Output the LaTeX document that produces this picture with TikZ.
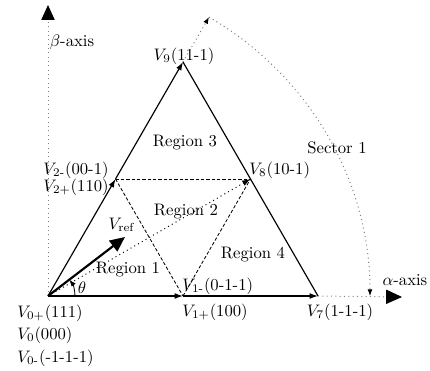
\documentclass[tikz,border=0pt]{standalone}
\usepackage{amsmath}
\usetikzlibrary{arrows.meta}
\begin{document}
\begin{tikzpicture}[x=0.6pt,y=0.6pt,
  vec/.style={line width=0.7pt,-{Latex[length=5pt,width=3.5pt]}},
  edge/.style={line width=0.7pt},
  dashtri/.style={dash pattern=on 2pt off 1.2pt,line width=0.5pt},
  dotl/.style={dotted,gray,line width=0.6pt},
  lab/.style={inner sep=0pt,font=\normalsize}]
\useasboundingbox (0,0) rectangle (430,371);
% points
\coordinate (O) at (48,75);
\coordinate (V1) at (183,75);
\coordinate (V7) at (318,75);
\coordinate (V9) at (183,309);
\coordinate (V2) at (115.5,192);
\coordinate (V8) at (250.5,192);
\coordinate (Vr) at (125,134);
\coordinate (btip) at (48,366);
\coordinate (atip) at (402,74);
\path (O) ++(60:322) coordinate (A60);
\path (O) ++(0:322) coordinate (A0);
% axes
\draw[dotl,-{Triangle[length=9pt,width=8pt,color=black]}] (O) -- (btip);
\draw[dotl,-{Triangle[length=9.5pt,width=8.5pt,color=black]}] (V7) -- (atip);
\draw[dotl,-{Latex[length=4pt,width=3pt,color=black]}] (V9) -- (A60);
\draw[dotl,-{Latex[length=4pt,width=3pt,color=black]}] (A60) arc[start angle=60,end angle=0,radius=193.2pt];
% dashed inner triangle
\draw[dashtri] (V2) -- (V8);
\draw[dashtri] (V2) -- (V1);
\draw[dashtri] (V1) -- (V8);
\draw[dotted,line width=0.6pt,-{Latex[length=5pt,width=3.5pt]}] (O) -- (V8);
% outer triangle
\draw[vec] (O) -- (V1);
\draw[vec] (V1) -- (V7);
\draw[vec] (O) -- (V2);
\draw[vec] (V2) -- (V9);
\draw[edge] (V9) -- (V7);
% reference vector
\draw[line width=1.3pt,-{Triangle[length=9pt,width=8pt]}] (O) -- (Vr);
\draw[line width=0.5pt,-{Latex[length=4pt,width=3pt]}] (O) ++(0:27) arc[start angle=0,end angle=37,radius=16.2pt];
% labels
\node[lab] (lbeta) at (72,329) {$\beta$-axis};
\node[lab] (lalpha) at (405,91) {$\alpha$-axis};
\node[lab] (lv9) at (184,315) {$V_9(11\text{-}1)$};
\node[lab] (lr3) at (185,228) {Region 3};
\node[lab] (ls1) at (337,223) {Sector 1};
\node[lab,anchor=west] (lv8) at (249,201) {$V_8(10\text{-}1)$};
\node[lab] (lv2m) at (76,201) {$V_{2\text{-}}(00\text{-}1)$};
\node[lab] (lv2p) at (76,184) {$V_{2+}(110)$};
\node[lab] (lr2) at (186,159) {Region 2};
\node[lab] (lvr) at (122,146) {$V_{\mathrm{ref}}$};
\node[lab] (lr1) at (128,101) {Region 1};
\node[lab] (lr4) at (253,116) {Region 4};
\node[lab,anchor=west] (lv1m) at (182,85) {$V_{1\text{-}}(0\text{-}1\text{-}1)$};
\node[lab] (lth) at (82,83) {$\theta$};
\node[lab,anchor=west] (lv1p) at (182,59) {$V_{1+}(100)$};
\node[lab,anchor=west] (lv0p) at (17,58) {$V_{0+}(111)$};
\node[lab,anchor=west] (lv0) at (17,36) {$V_{0}(000)$};
\node[lab,anchor=west] (lv0m) at (17,13) {$V_{0\text{-}}(\text{-}1\text{-}1\text{-}1)$};
\node[lab] (lv7) at (340,59) {$V_7(1\text{-}1\text{-}1)$};
\end{tikzpicture}
\end{document}
